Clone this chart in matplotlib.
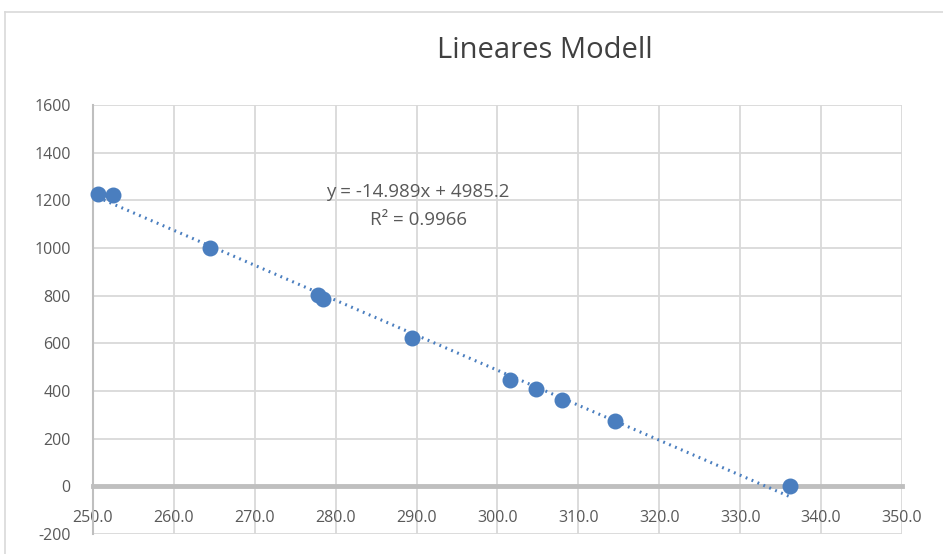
import numpy as np
import matplotlib.pyplot as plt
from matplotlib.lines import Line2D

plt.rcParams['font.family'] = ['Open Sans', 'DejaVu Sans']
plt.rcParams['axes.unicode_minus'] = False

# data
x_vals = [250.6, 252.5, 264.5, 277.8, 278.4, 289.4, 301.5, 304.7, 308.0, 314.5, 336.2]
y_vals = [1227, 1223, 1000, 802, 786, 622, 445, 408, 361, 273, 0]
eq_text = "y = -14.989x + 4985.2"
r2_text = "R² = 0.9966"
x_ticks = np.arange(250, 351, 10)
y_ticks = np.arange(-200, 1601, 200)

fig = plt.figure(figsize=(9.43, 5.54), dpi=100)
ax = fig.add_axes([0.0986, 0.0361, 0.8579, 0.7744])

# outer chart frame
fig.add_artist(Line2D([5/943, 5/943], [0, 1 - 12/554], color='#d9d9d9', lw=1.2, transform=fig.transFigure))
fig.add_artist(Line2D([5/943, 1], [1 - 12/554, 1 - 12/554], color='#d9d9d9', lw=1.2, transform=fig.transFigure))

blue = '#4a7ebf'
ax.scatter(x_vals, y_vals, s=110, color=blue, zorder=4, clip_on=False)

# linear trendline
coef = np.polyfit(x_vals, y_vals, 1)
xl = np.array([min(x_vals), max(x_vals)])
ax.plot(xl, np.polyval(coef, xl), color=blue, lw=2.2, ls=(0, (0.6, 1.5)), zorder=3)

ax.text(290.2, 1235, eq_text, ha='center', va='center', fontsize=13.5, color='#595959')
ax.text(290.2, 1118, r2_text, ha='center', va='center', fontsize=13.5, color='#595959')

ax.set_xlim(250, 350)
ax.set_ylim(-200, 1600)
ax.set_xticks(x_ticks)
ax.set_xticklabels([f"{v:.1f}" for v in x_ticks])
ax.set_yticks(y_ticks)
ax.grid(True, color='#d9d9d9', lw=1.3)
ax.set_axisbelow(True)

for s in ['top', 'right']:
    ax.spines[s].set_visible(False)
ax.spines['bottom'].set_position(('data', 0))
ax.spines['bottom'].set_color('#bfbfbf')
ax.spines['bottom'].set_linewidth(3.5)
ax.spines['bottom'].set_zorder(2)
ax.spines['left'].set_color('#bfbfbf')
ax.spines['left'].set_linewidth(1.5)

ax.tick_params(axis='x', length=0, pad=17, labelsize=11.5, labelcolor='#595959')
ax.tick_params(axis='y', length=0, pad=16, labelsize=11.5, labelcolor='#595959')

fig.suptitle("Lineares Modell", x=0.578, y=0.935, fontsize=21, color='#404040')

fig.savefig('out.png', dpi=100)
